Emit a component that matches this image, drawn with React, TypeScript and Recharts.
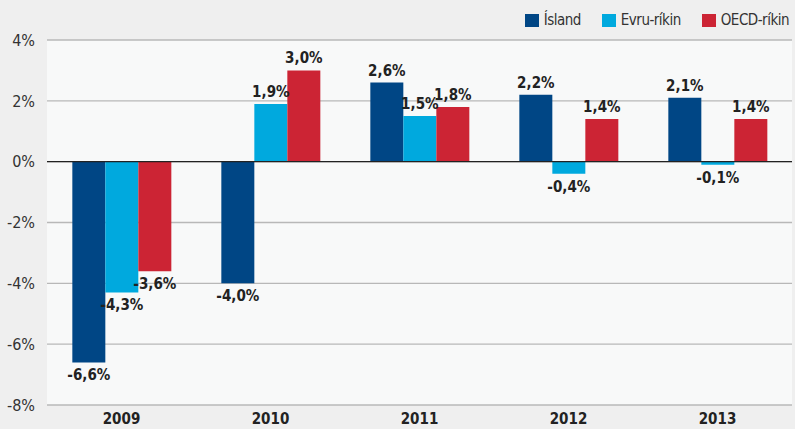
import React from "react";
import { BarChart, Bar, XAxis, YAxis, CartesianGrid, ReferenceLine, Legend, LabelList } from "recharts";

const years = ["2009", "2010", "2011", "2012", "2013"];
const island = [-6.6, -4.0, 2.6, 2.2, 2.1];
const evru = [-4.3, 1.9, 1.5, -0.4, -0.1];
const oecd = [-3.6, 3.0, 1.8, 1.4, 1.4];
const yTicks = [-8, -6, -4, -2, 0, 2, 4];
const seriesNames = ["Ísland", "Evru-ríkin", "OECD-ríkin"];
const seriesKeys = ["island", "evru", "oecd"];
const seriesColors = ["#004685", "#00a9de", "#cc2434"];

const data = years.map((y, i) => ({ year: y, island: island[i], evru: evru[i], oecd: oecd[i] }));

const FONT = "'DejaVu Sans Condensed', 'DejaVu Sans', sans-serif";
const COND = { fontStretch: "condensed" as const };

const fmt = (v: number) => `${v.toFixed(1).replace(".", ",")}%`;

const ValueLabel = (props: any) => {
  const { x, y, width, height, value } = props;
  const top = Math.min(y, y + height);
  const bottom = Math.max(y, y + height);
  const cx = x + width / 2;
  const ty = value >= 0 ? top - 7 : bottom + 18;
  return (
    <text x={cx} y={ty} textAnchor="middle" fontFamily={FONT} fontWeight="bold" fontSize={15} fill="#222" style={COND}>
      {fmt(value)}
    </text>
  );
};

const LegendContent = () => (
  <div style={{ display: "flex", alignItems: "center", fontFamily: FONT, fontSize: 15, color: "#333", letterSpacing: -0.5, ...COND }}>
    {seriesNames.map((n, i) => (
      <div key={n} style={{ display: "flex", alignItems: "center", marginLeft: i === 0 ? 0 : 21 }}>
        <span style={{ display: "inline-block", width: 14, height: 13, background: seriesColors[i], marginRight: 5 }} />
        <span>{n}</span>
      </div>
    ))}
  </div>
);

export default function App() {
  return (
    <div style={{ position: "absolute", left: 0, top: 0, width: 795, height: 429, background: "#efefef" }}>
      <BarChart
        width={795}
        height={429}
        data={data}
        margin={{ top: 40, right: 3, left: 0, bottom: 0 }}
        barGap={0}
        barCategoryGap="17%"
      >
        <CartesianGrid vertical={false} fill="#f8f9f9" stroke="#b8b8b8" strokeWidth={1.3} />
        <XAxis
          dataKey="year"
          axisLine={false}
          tickLine={false}
          tickSize={0}
          tickMargin={8}
          height={24}
          tick={{ fontFamily: FONT, fontWeight: "bold", fontSize: 15, fill: "#222", style: COND }}
        />
        <YAxis
          domain={[-8, 4]}
          ticks={yTicks}
          width={47}
          axisLine={false}
          tickLine={false}
          tickSize={0}
          tickMargin={12}
          tickFormatter={(v: number) => `${v}%`}
          tick={{ fontFamily: FONT, fontSize: 16, fill: "#333", style: COND }}
        />
        <Legend
          layout="horizontal"
          verticalAlign="middle"
          align="center"
          wrapperStyle={{ top: 11, right: 6, left: "auto", width: "auto" }}
          content={<LegendContent />}
        />
        {seriesKeys.map((k, i) => (
          <Bar key={k} dataKey={k} name={seriesNames[i]} fill={seriesColors[i]} isAnimationActive={false}>
            <LabelList dataKey={k} content={<ValueLabel />} />
          </Bar>
        ))}
        <ReferenceLine y={0} stroke="#222" strokeWidth={1.2} />
      </BarChart>
    </div>
  );
}
